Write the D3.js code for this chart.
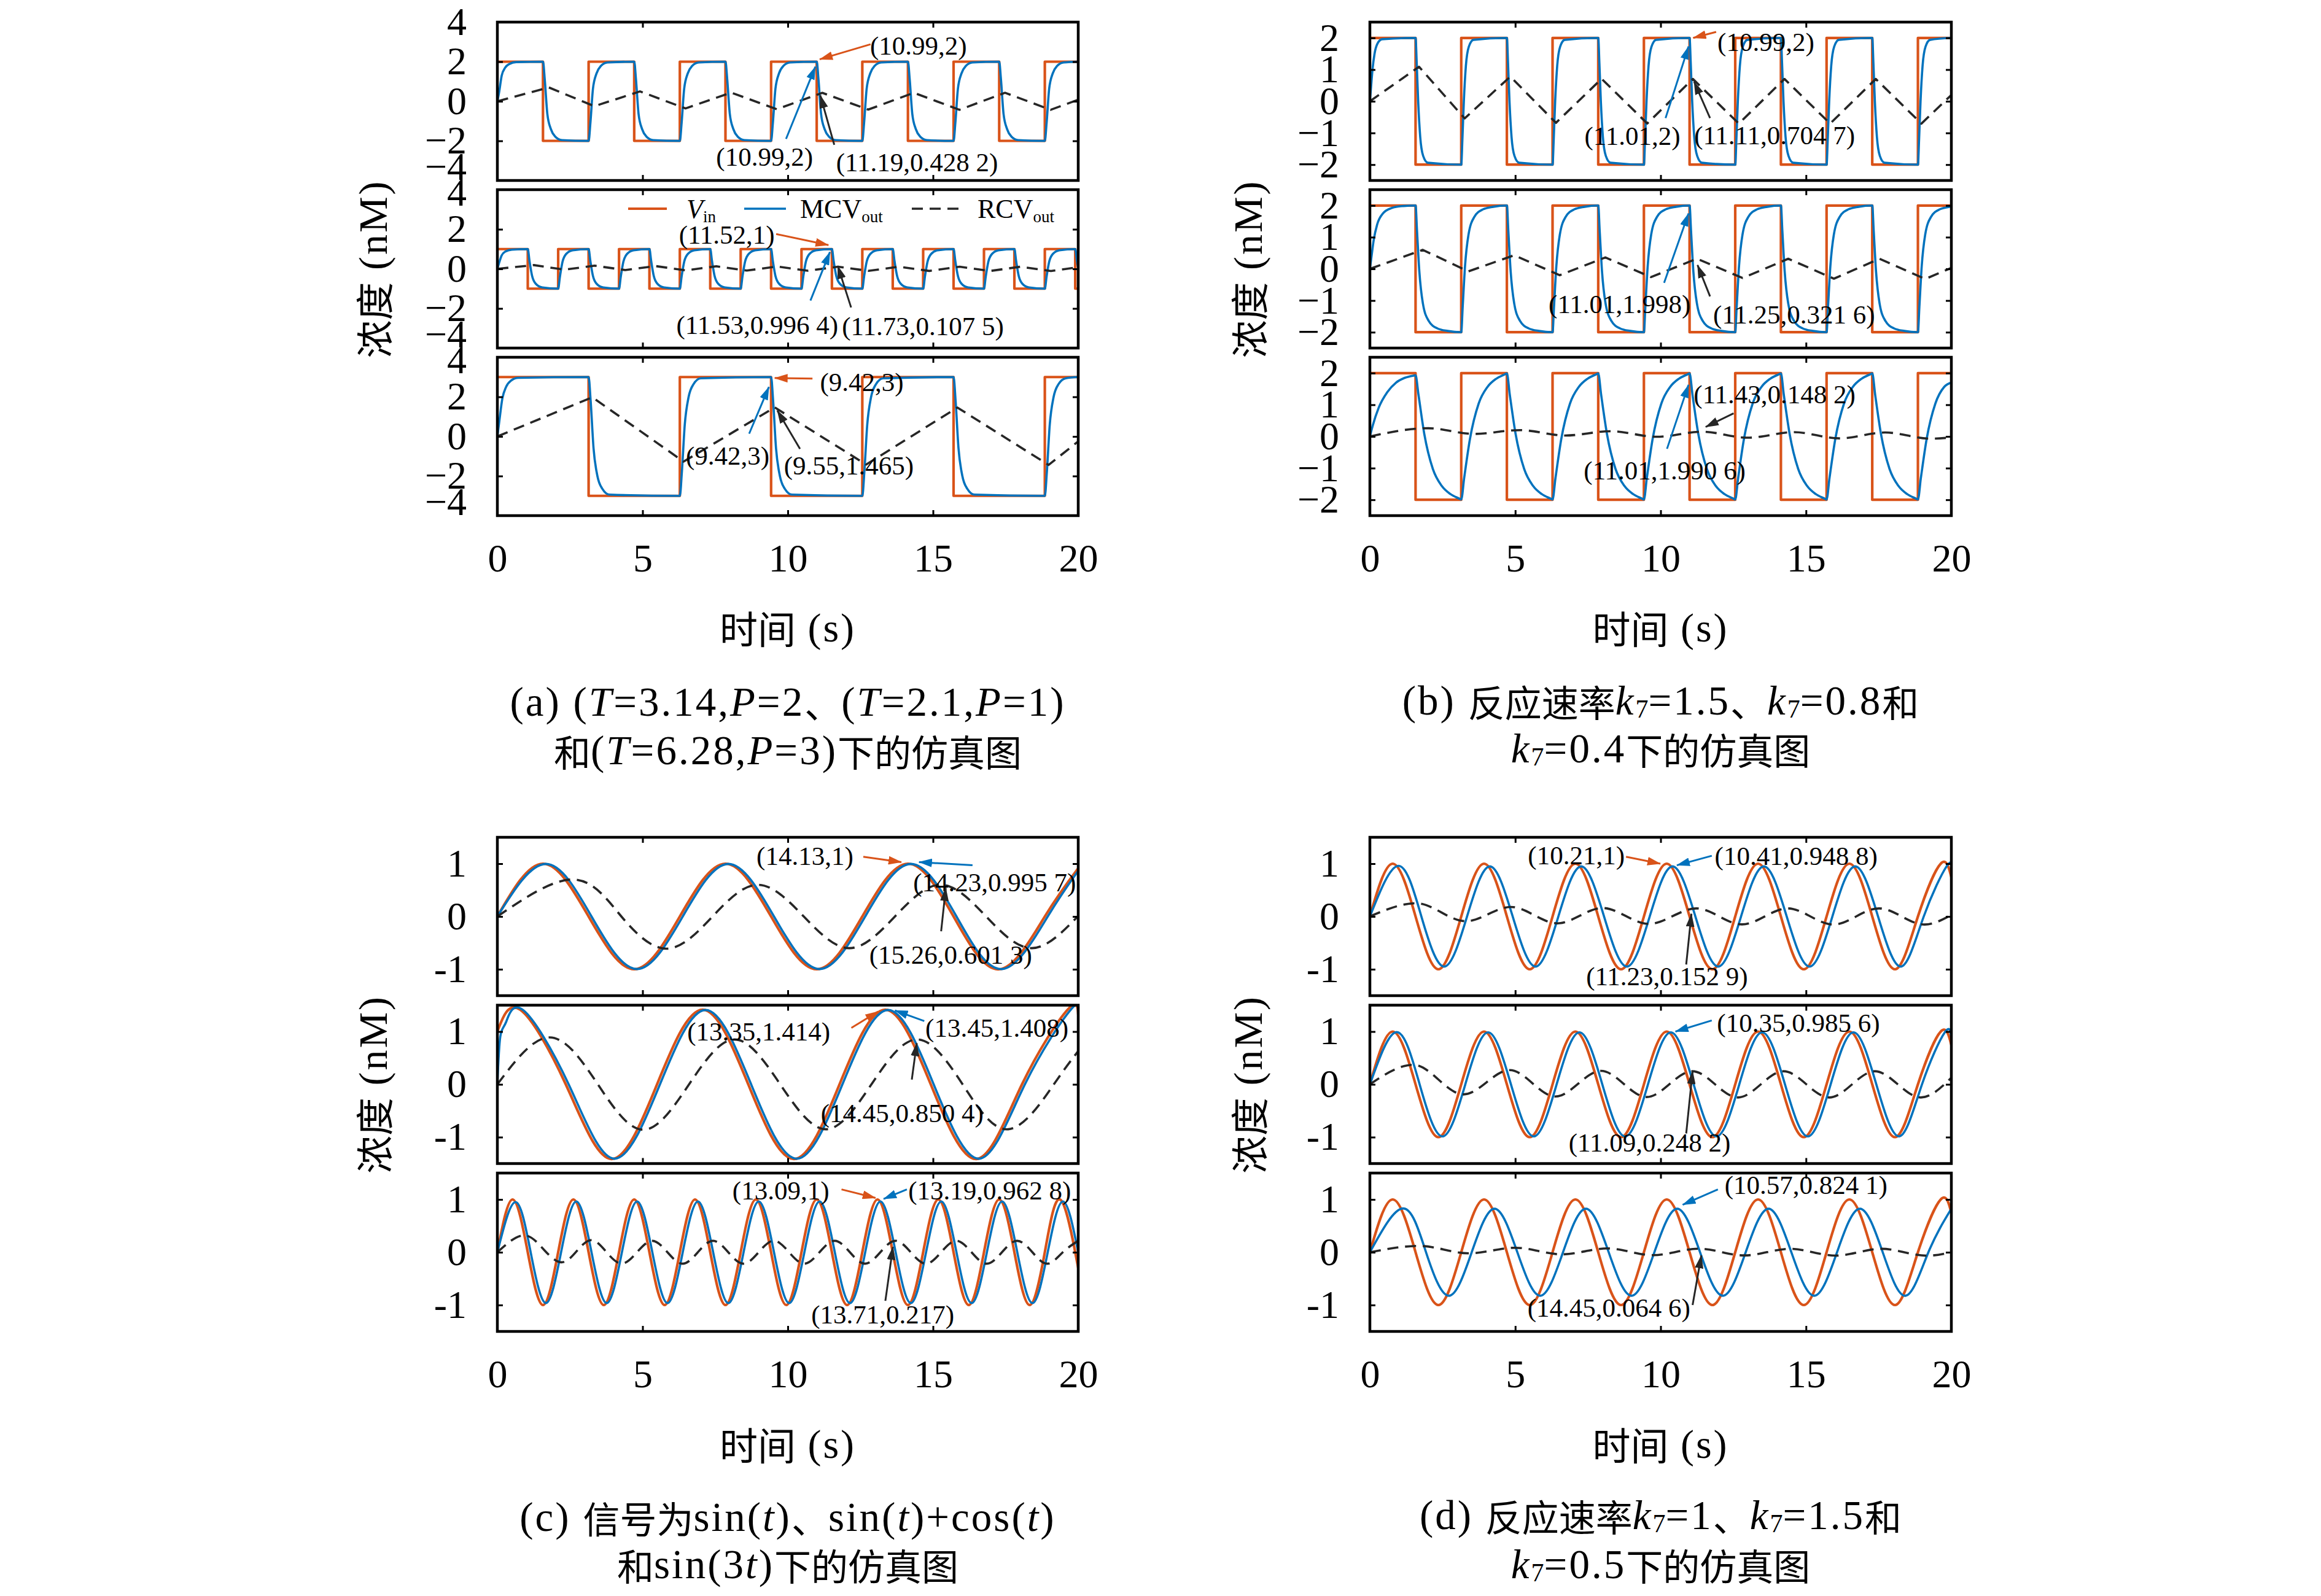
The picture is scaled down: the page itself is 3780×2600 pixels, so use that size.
<!DOCTYPE html>
<html>
<head>
<meta charset="utf-8">
<script src="https://cdn.jsdelivr.net/npm/d3@7"></script>
<style>
  body { margin: 0; background: #fff; }
</style>
</head>
<body>
<svg id="fig" width="3780" height="2600"></svg>
<script>
// -------- Data --------
const timeTicks = [0, 5, 10, 15, 20];
const yTicksA = [-4, -2, 0, 2, 4];
const yTicksB = [-2, -1, 0, 1, 2];
const yTicksCD = [-1, 0, 1];

// (a) square inputs, [t, level] from t onward
const vinA1 = [[0,2],[1.571,-2],[3.142,2],[4.712,-2],[6.283,2],[7.854,-2],[9.425,2],[10.996,-2],[12.566,2],[14.137,-2],[15.708,2],[17.279,-2],[18.850,2],[20,2]];
const vinA2 = [[0,1],[1.047,-1],[2.094,1],[3.142,-1],[4.189,1],[5.236,-1],[6.283,1],[7.330,-1],[8.378,1],[9.425,-1],[10.472,1],[11.519,-1],[12.566,1],[13.614,-1],[14.661,1],[15.708,-1],[16.755,1],[17.802,-1],[18.850,1],[19.897,-1],[20,-1]];
const vinA3 = [[0,3],[3.142,-3],[6.283,3],[9.425,-3],[12.566,3],[15.708,-3],[18.850,3],[20,3]];

const mcvA1 = [[0,0],[0.06,0.45],[0.15,1.3],[0.27,1.7],[0.42,1.89],[0.65,1.98],
  [1.571,2],[1.631,1.12],[1.721,-0.64],[1.841,-1.4],[1.991,-1.78],[2.221,-1.96],
  [3.142,-2],[3.202,-1.12],[3.292,0.64],[3.412,1.4],[3.562,1.78],[3.792,1.96],
  [4.712,2],[4.772,1.12],[4.862,-0.64],[4.982,-1.4],[5.132,-1.78],[5.362,-1.96],
  [6.283,-2],[6.343,-1.12],[6.433,0.64],[6.553,1.4],[6.703,1.78],[6.933,1.96],
  [7.854,2],[7.914,1.12],[8.004,-0.64],[8.124,-1.4],[8.274,-1.78],[8.504,-1.96],
  [9.425,-2],[9.485,-1.12],[9.575,0.64],[9.695,1.4],[9.845,1.78],[10.075,1.96],
  [10.996,2],[11.056,1.12],[11.146,-0.64],[11.266,-1.4],[11.416,-1.78],[11.646,-1.96],
  [12.566,-2],[12.626,-1.12],[12.716,0.64],[12.836,1.4],[12.986,1.78],[13.216,1.96],
  [14.137,2],[14.197,1.12],[14.287,-0.64],[14.407,-1.4],[14.557,-1.78],[14.787,-1.96],
  [15.708,-2],[15.768,-1.12],[15.858,0.64],[15.978,1.4],[16.128,1.78],[16.358,1.96],
  [17.279,2],[17.339,1.12],[17.429,-0.64],[17.549,-1.4],[17.699,-1.78],[17.929,-1.96],
  [18.850,-2],[18.910,-1.12],[19.000,0.64],[19.120,1.4],[19.270,1.78],[19.500,1.96],[20,2]];
const mcvA2 = [[0,0],[0.06,0.3],[0.15,0.68],[0.28,0.88],[0.5,0.97],
  [1.047,1],[1.107,0.4],[1.197,-0.36],[1.327,-0.76],[1.547,-0.94],
  [2.094,-1],[2.154,-0.4],[2.244,0.36],[2.374,0.76],[2.594,0.94],
  [3.142,1],[3.202,0.4],[3.292,-0.36],[3.422,-0.76],[3.642,-0.94],
  [4.189,-1],[4.249,-0.4],[4.339,0.36],[4.469,0.76],[4.689,0.94],
  [5.236,1],[5.296,0.4],[5.386,-0.36],[5.516,-0.76],[5.736,-0.94],
  [6.283,-1],[6.343,-0.4],[6.433,0.36],[6.563,0.76],[6.783,0.94],
  [7.330,1],[7.390,0.4],[7.480,-0.36],[7.610,-0.76],[7.830,-0.94],
  [8.378,-1],[8.438,-0.4],[8.528,0.36],[8.658,0.76],[8.878,0.94],
  [9.425,1],[9.485,0.4],[9.575,-0.36],[9.705,-0.76],[9.925,-0.94],
  [10.472,-1],[10.532,-0.4],[10.622,0.36],[10.752,0.76],[10.972,0.94],
  [11.519,1],[11.579,0.4],[11.669,-0.36],[11.799,-0.76],[12.019,-0.94],
  [12.566,-1],[12.626,-0.4],[12.716,0.36],[12.846,0.76],[13.066,0.94],
  [13.614,1],[13.674,0.4],[13.764,-0.36],[13.894,-0.76],[14.114,-0.94],
  [14.661,-1],[14.721,-0.4],[14.811,0.36],[14.941,0.76],[15.161,0.94],
  [15.708,1],[15.768,0.4],[15.858,-0.36],[15.988,-0.76],[16.208,-0.94],
  [16.755,-1],[16.815,-0.4],[16.905,0.36],[17.035,0.76],[17.255,0.94],
  [17.802,1],[17.862,0.4],[17.952,-0.36],[18.082,-0.76],[18.302,-0.94],
  [18.850,-1],[18.910,-0.4],[19.000,0.36],[19.130,0.76],[19.350,0.94],
  [19.897,1],[19.957,0.4],[20,0.05]];
const mcvA3 = [[0,0],[0.07,0.8],[0.17,1.9],[0.3,2.5],[0.47,2.82],[0.72,2.96],
  [3.142,3],[3.212,1.8],[3.312,-0.6],[3.442,-1.98],[3.612,-2.64],[3.862,-2.94],
  [6.283,-3],[6.353,-1.8],[6.453,0.6],[6.583,1.98],[6.753,2.64],[7.003,2.94],
  [9.425,3],[9.495,1.8],[9.595,-0.6],[9.725,-1.98],[9.895,-2.64],[10.145,-2.94],
  [12.566,-3],[12.636,-1.8],[12.736,0.6],[12.866,1.98],[13.036,2.64],[13.286,2.94],
  [15.708,3],[15.778,1.8],[15.878,-0.6],[16.008,-1.98],[16.178,-2.64],[16.428,-2.94],
  [18.850,-3],[18.920,-1.8],[19.020,0.6],[19.150,1.98],[19.320,2.64],[19.570,2.94],[20,3]];

const rcvA1 = [[0,0],[1.77,0.70],[3.34,-0.25],[4.91,0.50],[6.48,-0.36],[8.05,0.44],[9.62,-0.40],[11.19,0.4282],[12.77,-0.42],[14.34,0.43],[15.91,-0.43],[17.48,0.43],[19.05,-0.43],[20,0.08]];
const rcvA2 = [[0,0],[1.257,0.19],[2.304,-0.04],[3.352,0.16],[4.399,-0.06],[5.446,0.14],[6.493,-0.075],[7.540,0.13],[8.588,-0.085],[9.635,0.12],[10.682,-0.095],[11.729,0.1075],[12.776,-0.1],[13.824,0.107],[14.871,-0.104],[15.918,0.107],[16.965,-0.106],[18.012,0.107],[19.060,-0.107],[20,0.085]];
const rcvA3 = [[0,0],[3.27,1.98],[6.41,-1.27],[9.55,1.465],[12.70,-1.42],[15.84,1.46],[18.98,-1.44],[20,-0.25]];

// (b) same square input for the three rates
const vinB = [[0,2],[1.571,-2],[3.142,2],[4.712,-2],[6.283,2],[7.854,-2],[9.425,2],[10.996,-2],[12.566,2],[14.137,-2],[15.708,2],[17.279,-2],[18.850,2],[20,2]];
const mcvB1 = [[0,0],[0.04,0.45],[0.09,1.0],[0.16,1.5],[0.26,1.82],[0.42,1.96],
  [1.571,2],[1.611,1.2],[1.661,0],[1.731,-1.12],[1.831,-1.72],[1.991,-1.94],
  [3.142,-2],[3.182,-1.2],[3.232,0],[3.302,1.12],[3.402,1.72],[3.562,1.94],
  [4.712,2],[4.752,1.2],[4.802,0],[4.872,-1.12],[4.972,-1.72],[5.132,-1.94],
  [6.283,-2],[6.323,-1.2],[6.373,0],[6.443,1.12],[6.543,1.72],[6.703,1.94],
  [7.854,2],[7.894,1.2],[7.944,0],[8.014,-1.12],[8.114,-1.72],[8.274,-1.94],
  [9.425,-2],[9.465,-1.2],[9.515,0],[9.585,1.12],[9.685,1.72],[9.845,1.94],
  [10.996,2],[11.036,1.2],[11.086,0],[11.156,-1.12],[11.256,-1.72],[11.416,-1.94],
  [12.566,-2],[12.606,-1.2],[12.656,0],[12.726,1.12],[12.826,1.72],[12.986,1.94],
  [14.137,2],[14.177,1.2],[14.227,0],[14.297,-1.12],[14.397,-1.72],[14.557,-1.94],
  [15.708,-2],[15.748,-1.2],[15.798,0],[15.868,1.12],[15.968,1.72],[16.128,1.94],
  [17.279,2],[17.319,1.2],[17.369,0],[17.439,-1.12],[17.539,-1.72],[17.699,-1.94],
  [18.850,-2],[18.890,-1.2],[18.940,0],[19.010,1.12],[19.110,1.72],[19.270,1.94],[20,2]];
const mcvB2 = [[0,0],[0.05,0.35],[0.13,0.9],[0.25,1.4],[0.45,1.75],[0.75,1.92],[1.1,1.98],
  [1.571,2],[1.621,1.2],[1.701,-0.08],[1.821,-1.08],[2.021,-1.64],[2.321,-1.88],[2.671,-1.96],
  [3.142,-2],[3.192,-1.2],[3.272,0.08],[3.392,1.08],[3.592,1.64],[3.892,1.88],[4.242,1.96],
  [4.712,2],[4.762,1.2],[4.842,-0.08],[4.962,-1.08],[5.162,-1.64],[5.462,-1.88],[5.812,-1.96],
  [6.283,-2],[6.333,-1.2],[6.413,0.08],[6.533,1.08],[6.733,1.64],[7.033,1.88],[7.383,1.96],
  [7.854,2],[7.904,1.2],[7.984,-0.08],[8.104,-1.08],[8.304,-1.64],[8.604,-1.88],[8.954,-1.96],
  [9.425,-2],[9.475,-1.2],[9.555,0.08],[9.675,1.08],[9.875,1.64],[10.175,1.88],[10.525,1.96],
  [10.996,2],[11.046,1.2],[11.126,-0.08],[11.246,-1.08],[11.446,-1.64],[11.746,-1.88],[12.096,-1.96],
  [12.566,-2],[12.616,-1.2],[12.696,0.08],[12.816,1.08],[13.016,1.64],[13.316,1.88],[13.666,1.96],
  [14.137,2],[14.187,1.2],[14.267,-0.08],[14.387,-1.08],[14.587,-1.64],[14.887,-1.88],[15.237,-1.96],
  [15.708,-2],[15.758,-1.2],[15.838,0.08],[15.958,1.08],[16.158,1.64],[16.458,1.88],[16.808,1.96],
  [17.279,2],[17.329,1.2],[17.409,-0.08],[17.529,-1.08],[17.729,-1.64],[18.029,-1.88],[18.379,-1.96],
  [18.850,-2],[18.900,-1.2],[18.980,0.08],[19.100,1.08],[19.300,1.64],[19.600,1.88],[19.950,1.96],[20,1.97]];
const mcvB3 = [[0,0],[0.1,0.35],[0.3,0.9],[0.6,1.4],[0.9,1.7],[1.2,1.85],[1.5,1.92],
  [1.571,1.93],[1.671,1.32],[1.871,0.08],[2.171,-1.04],[2.471,-1.56],[2.771,-1.82],[3.071,-1.96],
  [3.142,-1.99],[3.242,-1.32],[3.442,-0.08],[3.742,1.04],[4.042,1.56],[4.342,1.82],[4.642,1.96],
  [4.712,1.99],[4.812,1.32],[5.012,0.08],[5.312,-1.04],[5.612,-1.56],[5.912,-1.82],[6.212,-1.96],
  [6.283,-1.99],[6.383,-1.32],[6.583,-0.08],[6.883,1.04],[7.183,1.56],[7.483,1.82],[7.783,1.96],
  [7.854,1.99],[7.954,1.32],[8.154,0.08],[8.454,-1.04],[8.754,-1.56],[9.054,-1.82],[9.354,-1.96],
  [9.425,-1.99],[9.525,-1.32],[9.725,-0.08],[10.025,1.04],[10.325,1.56],[10.625,1.82],[10.925,1.96],
  [10.996,1.99],[11.096,1.32],[11.296,0.08],[11.596,-1.04],[11.896,-1.56],[12.196,-1.82],[12.496,-1.96],
  [12.566,-1.99],[12.666,-1.32],[12.866,-0.08],[13.166,1.04],[13.466,1.56],[13.766,1.82],[14.066,1.96],
  [14.137,1.99],[14.237,1.32],[14.437,0.08],[14.737,-1.04],[15.037,-1.56],[15.337,-1.82],[15.637,-1.96],
  [15.708,-1.99],[15.808,-1.32],[16.008,-0.08],[16.308,1.04],[16.608,1.56],[16.908,1.82],[17.208,1.96],
  [17.279,1.99],[17.379,1.32],[17.579,0.08],[17.879,-1.04],[18.179,-1.56],[18.479,-1.82],[18.779,-1.96],
  [18.850,-1.99],[18.950,-1.32],[19.150,-0.08],[19.450,1.04],[19.750,1.56],[20,1.7]];
const rcvB1 = [[0,0],[1.69,1.09],[3.26,-0.54],[4.83,0.78],[6.40,-0.68],[7.97,0.71],[9.54,-0.70],[11.11,0.7047],[12.69,-0.705],[14.26,0.705],[15.83,-0.705],[17.40,0.705],[18.97,-0.705],[20,0.2]];
const rcvB2 = [[0,0],[1.82,0.60],[3.39,-0.08],[4.96,0.43],[6.53,-0.20],[8.10,0.36],[9.67,-0.26],[11.25,0.3216],[12.82,-0.29],[14.39,0.32],[15.96,-0.31],[17.53,0.32],[19.10,-0.32],[20,0.03]];
const rcvB3 = [[0,0],[2.01,0.26],[3.58,0.08],[5.15,0.20],[6.72,0.03],[8.29,0.165],[9.86,-0.01],[11.43,0.1482],[13.00,-0.04],[14.58,0.135],[16.15,-0.06],[17.72,0.125],[19.29,-0.07],[20,-0.03]];

// (c) sine inputs: extrema and zero crossings
const vinC1 = [[0,0],[1.571,1],[3.142,0],[4.712,-1],[6.283,0],[7.854,1],[9.425,0],[10.996,-1],[12.566,0],[14.137,1],[15.708,0],[17.279,-1],[18.850,0],[20,0.913]];
const mcvC1 = [[0,0],[1.671,0.996],[3.242,0],[4.812,-0.996],[6.383,0],[7.954,0.996],[9.525,0],[11.096,-0.996],[12.666,0],[14.237,0.9957],[15.808,0],[17.379,-0.996],[18.950,0],[20,0.867]];
const rcvC1 = [[0,0],[2.6,0.70],[4.27,0],[5.84,-0.61],[7.41,0],[8.97,0.60],[10.55,0],[12.12,-0.60],[13.69,0],[15.26,0.6013],[16.83,0],[18.40,-0.60],[20,0.01]];
const vinC2 = [[0,1],[0.785,1.414],[2.356,0],[3.927,-1.414],[5.498,0],[7.069,1.414],[8.639,0],[10.210,-1.414],[11.781,0],[13.352,1.414],[14.923,0],[16.493,-1.414],[18.064,0],[19.635,1.414],[20,1.32]];
const mcvC2 = [[0,0],[0.1,0.9],[0.3,1.18],[0.885,1.408],[2.456,0],[4.027,-1.408],[5.598,0],[7.169,1.408],[8.739,0],[10.310,-1.408],[11.881,0],[13.452,1.408],[15.023,0],[16.593,-1.408],[18.164,0],[19.735,1.408],[20,1.36]];
const rcvC2 = [[0,0],[1.8,0.89],[3.46,0],[5.03,-0.86],[6.60,0],[8.17,0.85],[9.74,0],[11.31,-0.85],[12.88,0],[14.45,0.8504],[16.02,0],[17.59,-0.85],[19.16,0],[20,0.63]];
const vinC3 = [[0,0],[0.524,1],[1.047,0],[1.571,-1],[2.094,0],[2.618,1],[3.142,0],[3.665,-1],[4.189,0],[4.712,1],[5.236,0],[5.760,-1],[6.283,0],[6.807,1],[7.330,0],[7.854,-1],[8.378,0],[8.901,1],[9.425,0],[9.948,-1],[10.472,0],[10.996,1],[11.519,0],[12.043,-1],[12.566,0],[13.090,1],[13.614,0],[14.137,-1],[14.661,0],[15.184,1],[15.708,0],[16.232,-1],[16.755,0],[17.279,1],[17.802,0],[18.326,-1],[18.850,0],[19.373,1],[19.897,0],[20,-0.305]];
const mcvC3 = [[0,0],[0.624,0.95],[1.147,0],[1.671,-0.963],[2.194,0],[2.718,0.963],[3.242,0],[3.765,-0.963],[4.289,0],[4.812,0.963],[5.336,0],[5.860,-0.963],[6.383,0],[6.907,0.963],[7.430,0],[7.954,-0.963],[8.478,0],[9.001,0.963],[9.525,0],[10.048,-0.963],[10.572,0],[11.096,0.963],[11.619,0],[12.143,-0.963],[12.666,0],[13.190,0.9628],[13.714,0],[14.237,-0.963],[14.761,0],[15.284,0.963],[15.808,0],[16.332,-0.963],[16.855,0],[17.379,0.963],[17.902,0],[18.426,-0.963],[18.950,0],[19.473,0.963],[20,0]];
const rcvC3 = [[0,0],[0.9,0.32],[1.6,0.05],[2.2,-0.19],[2.714,0.01],[3.238,0.23],[3.762,0],[4.285,-0.215],[4.809,0],[5.332,0.217],[5.856,0],[6.379,-0.217],[6.903,0],[7.426,0.217],[7.950,0],[8.473,-0.217],[8.997,0],[9.520,0.217],[10.044,0],[10.567,-0.217],[11.092,0],[11.614,0.217],[12.139,0],[12.661,-0.217],[13.186,0],[13.708,0.217],[14.233,0],[14.755,-0.217],[15.280,0],[15.802,0.217],[16.327,0],[16.849,-0.217],[17.374,0],[17.896,0.217],[18.422,0],[18.943,-0.217],[19.469,0],[20,0.217]];

// (d) same sine input for the three rates
const vinD = [[0,0],[0.785,1],[1.571,0],[2.356,-1],[3.142,0],[3.927,1],[4.712,0],[5.498,-1],[6.283,0],[7.069,1],[7.854,0],[8.639,-1],[9.425,0],[10.210,1],[10.996,0],[11.781,-1],[12.566,0],[13.352,1],[14.137,0],[14.923,-1],[15.708,0],[16.493,1],[17.279,0],[18.064,-1],[18.850,0],[19.635,1],[20,0.745]];
const mcvD1 = [[0,0],[0.985,0.96],[1.771,0],[2.556,-0.949],[3.342,0],[4.127,0.949],[4.912,0],[5.698,-0.949],[6.483,0],[7.269,0.949],[8.054,0],[8.839,-0.949],[9.625,0],[10.410,0.9488],[11.196,0],[11.981,-0.949],[12.766,0],[13.552,0.949],[14.337,0],[15.123,-0.949],[15.908,0],[16.693,0.949],[17.479,0],[18.264,-0.949],[19.050,0],[19.835,0.949],[20,0.898]];
const mcvD2 = [[0,0],[0.925,0.99],[1.711,0],[2.496,-0.986],[3.282,0],[4.067,0.986],[4.852,0],[5.638,-0.986],[6.423,0],[7.209,0.986],[7.994,0],[8.779,-0.986],[9.565,0],[10.350,0.9856],[11.136,0],[11.921,-0.986],[12.706,0],[13.492,0.986],[14.277,0],[15.063,-0.986],[15.848,0],[16.633,0.986],[17.419,0],[18.204,-0.986],[18.990,0],[19.775,0.986],[20,0.887]];
const mcvD3 = [[0,0],[1.145,0.83],[1.931,0],[2.716,-0.824],[3.502,0],[4.287,0.824],[5.072,0],[5.858,-0.824],[6.643,0],[7.429,0.824],[8.214,0],[8.999,-0.824],[9.785,0],[10.570,0.8241],[11.356,0],[12.141,-0.824],[12.926,0],[13.712,0.824],[14.497,0],[15.283,-0.824],[16.068,0],[16.853,0.824],[17.639,0],[18.424,-0.824],[19.210,0],[20,0.824]];
const rcvD1 = [[0,0],[1.6,0.25],[3.3,-0.09],[4.85,0.18],[6.45,-0.13],[8.0,0.16],[9.6,-0.14],[11.23,0.1529],[12.80,-0.15],[14.37,0.153],[15.94,-0.153],[17.51,0.153],[19.08,-0.153],[20,0.03]];
const rcvD2 = [[0,0],[1.5,0.37],[3.22,-0.19],[4.81,0.27],[6.38,-0.23],[7.95,0.255],[9.52,-0.24],[11.09,0.2482],[12.66,-0.248],[14.23,0.248],[15.80,-0.248],[17.37,0.248],[18.95,-0.248],[20,0.126]];
const rcvD3 = [[0,0],[1.7,0.12],[3.4,-0.02],[5.0,0.085],[6.6,-0.04],[8.17,0.072],[9.74,-0.055],[11.31,0.067],[12.88,-0.06],[14.45,0.0646],[16.02,-0.064],[17.59,0.065],[19.16,-0.065],[20,0.0]];

// annotations: label, which series, label centre, arrow tail, arrow head (data units)
const notesA1 = [
  ["(10.99,2)", "vin", [14.5, 2.82], [12.85, 2.88], [11.1, 2.12]],
  ["(10.99,2)", "mcv", [9.2, -2.8], [9.94, -1.9], [10.95, 1.75]],
  ["(11.19,0.428 2)", "rcv", [14.45, -3.08], [11.6, -2.2], [11.12, 0.3]]
];
const notesA2 = [
  ["(11.52,1)", "vin", [7.9, 1.72], [9.6, 1.76], [11.4, 1.2]],
  ["(11.53,0.996 4)", "mcv", [8.95, -2.85], [10.78, -1.6], [11.45, 0.85]],
  ["(11.73,0.107 5)", "rcv", [14.65, -2.9], [12.18, -1.95], [11.72, 0.15]]
];
const notesA3 = [
  ["(9.42,3)", "vin", [12.55, 2.75], [10.85, 2.92], [9.55, 2.95]],
  ["(9.42,3)", "mcv", [7.93, -0.97], [8.67, 0.14], [9.35, 2.5]],
  ["(9.55,1.465)", "rcv", [12.1, -1.46], [10.42, -0.63], [9.64, 1.31]]
];
const notesB1 = [
  ["(10.99,2)", "vin", [13.62, 1.87], [11.91, 2.19], [11.12, 2.0]],
  ["(11.01,2)", "mcv", [9.03, -1.1], [10.17, -0.53], [10.96, 1.73]],
  ["(11.11,0.704 7)", "rcv", [13.92, -1.07], [11.7, -0.53], [11.15, 0.62]]
];
const notesB2 = [
  ["(11.01,1.998)", "mcv", [8.59, -1.12], [10.12, -0.44], [10.96, 1.75]],
  ["(11.25,0.321 6)", "rcv", [14.59, -1.44], [11.7, -0.87], [11.27, 0.12]]
];
const notesB3 = [
  ["(11.43,0.148 2)", "rcv", [13.92, 1.33], [12.51, 0.73], [11.55, 0.3]],
  ["(11.01,1.990 6)", "mcv", [10.14, -1.08], [10.22, -0.39], [10.96, 1.63]]
];
const notesC1 = [
  ["(14.13,1)", "vin", [10.59, 1.14], [12.6, 1.13], [13.91, 1.03]],
  ["(14.23,0.995 7)", "mcv", [17.12, 0.65], [16.36, 0.97], [14.52, 1.03]],
  ["(15.26,0.601 3)", "rcv", [15.61, -0.73], [15.28, -0.28], [15.44, 0.54]]
];
const notesC2 = [
  ["(13.35,1.414)", "vin", [9.0, 1.0], [12.19, 1.07], [13.11, 1.38]],
  ["(13.45,1.408)", "mcv", [17.2, 1.07], [14.7, 1.2], [13.69, 1.4]],
  ["(14.45,0.850 4)", "rcv", [13.94, -0.55], [14.27, 0.09], [14.44, 0.78]]
];
const notesC3 = [
  ["(13.09,1)", "vin", [9.76, 1.17], [11.85, 1.19], [13.02, 1.03]],
  ["(13.19,0.962 8)", "mcv", [16.95, 1.17], [14.1, 1.19], [13.3, 1.01]],
  ["(13.71,0.217)", "rcv", [13.27, -1.18], [13.36, -0.92], [13.62, 0.1]]
];
const notesD1 = [
  ["(10.21,1)", "vin", [7.1, 1.16], [8.81, 1.13], [9.99, 1.0]],
  ["(10.41,0.948 8)", "mcv", [14.66, 1.14], [11.76, 1.15], [10.56, 0.97]],
  ["(11.23,0.152 9)", "rcv", [10.22, -1.13], [10.88, -0.91], [11.06, 0.05]]
];
const notesD2 = [
  ["(10.35,0.985 6)", "mcv", [14.74, 1.16], [11.76, 1.21], [10.51, 1.0]],
  ["(11.09,0.248 2)", "rcv", [9.62, -1.11], [10.88, -0.93], [11.1, 0.25]]
];
const notesD3 = [
  ["(10.57,0.824 1)", "mcv", [15.0, 1.27], [11.97, 1.19], [10.76, 0.9]],
  ["(14.45,0.064 6)", "rcv", [8.22, -1.05], [11.1, -1.0], [11.4, -0.06]]
];

// caption runs: [text, style]  style: "" roman, "i" italic, "s" subscript
const captionA = [
  [["(a) (", ""], ["T", "i"], ["=3.14,", ""], ["P", "i"], ["=2、(", ""], ["T", "i"], ["=2.1,", ""], ["P", "i"], ["=1)", ""]],
  [["和(", ""], ["T", "i"], ["=6.28,", ""], ["P", "i"], ["=3)下的仿真图", ""]]
];
const captionB = [
  [["(b) 反应速率", ""], ["k", "i"], ["7", "s"], ["=1.5、", ""], ["k", "i"], ["7", "s"], ["=0.8和", ""]],
  [["k", "i"], ["7", "s"], ["=0.4下的仿真图", ""]]
];
const captionC = [
  [["(c) 信号为sin(", ""], ["t", "i"], [")、sin(", ""], ["t", "i"], [")+cos(", ""], ["t", "i"], [")", ""]],
  [["和sin(3", ""], ["t", "i"], [")下的仿真图", ""]]
];
const captionD = [
  [["(d) 反应速率", ""], ["k", "i"], ["7", "s"], ["=1、", ""], ["k", "i"], ["7", "s"], ["=1.5和", ""]],
  [["k", "i"], ["7", "s"], ["=0.5下的仿真图", ""]]
];
const xLabel = [["时间 (s)", ""]];
const yLabel = [["浓度 (nM)", ""]];

// -------- Styles --------
const SERIF = "'Liberation Serif', serif";
const CJK = "'Noto Sans CJK SC', sans-serif";
const STYLE = {
  vin: { color: "#D95319", width: 4.2, dash: null },
  mcv: { color: "#0072BD", width: 3.6, dash: null },
  rcv: { color: "#262626", width: 3.6, dash: "18,11" }
};

const svg = d3.select("#fig");
svg.append("rect").attr("width", 3780).attr("height", 2600).attr("fill", "#fff");

const defs = svg.append("defs");
Object.entries(STYLE).forEach(([k, s]) => {
  defs.append("marker")
    .attr("id", "ah-" + k)
    .attr("viewBox", "0 0 22 14")
    .attr("refX", 21).attr("refY", 7)
    .attr("markerWidth", 22).attr("markerHeight", 14)
    .attr("markerUnits", "userSpaceOnUse")
    .attr("orient", "auto")
    .append("path").attr("d", "M0,0L22,7L0,14Z").attr("fill", s.color);
});

// -------- Layout --------
const SUB_H = 258;
const panels = [
  { id: "a", xr: [810, 1756], tops: [36, 309, 582], ylabelX: 607, xlabelY: 1022, capY: [1143, 1222],
    minus: "\u2212", crowded: true, caption: captionA, legendRow: 1,
    subs: [
      { dom: [-4, 4], ticks: yTicksA, series: [[vinA1, "vin", d3.curveStepAfter], [mcvA1, "mcv", d3.curveMonotoneX], [rcvA1, "rcv", d3.curveLinear]], notes: notesA1 },
      { dom: [-4, 4], ticks: yTicksA, series: [[vinA2, "vin", d3.curveStepAfter], [mcvA2, "mcv", d3.curveMonotoneX], [rcvA2, "rcv", d3.curveLinear]], notes: notesA2 },
      { dom: [-4, 4], ticks: yTicksA, series: [[vinA3, "vin", d3.curveStepAfter], [mcvA3, "mcv", d3.curveMonotoneX], [rcvA3, "rcv", d3.curveLinear]], notes: notesA3 }
    ] },
  { id: "b", xr: [2231, 3178], tops: [36, 309, 582], ylabelX: 2032, xlabelY: 1022, capY: [1141, 1219],
    minus: "\u2212", crowded: false, caption: captionB,
    subs: [
      { dom: [-2.5, 2.5], ticks: yTicksB, series: [[vinB, "vin", d3.curveStepAfter], [mcvB1, "mcv", d3.curveMonotoneX], [rcvB1, "rcv", d3.curveLinear]], notes: notesB1 },
      { dom: [-2.5, 2.5], ticks: yTicksB, series: [[vinB, "vin", d3.curveStepAfter], [mcvB2, "mcv", d3.curveMonotoneX], [rcvB2, "rcv", d3.curveLinear]], notes: notesB2 },
      { dom: [-2.5, 2.5], ticks: yTicksB, series: [[vinB, "vin", d3.curveStepAfter], [mcvB3, "mcv", d3.curveMonotoneX], [rcvB3, "rcv", d3.curveMonotoneX]], notes: notesB3 }
    ] },
  { id: "c", xr: [810, 1756], tops: [1364, 1637.5, 1911], ylabelX: 607, xlabelY: 2352, capY: [2471, 2548],
    minus: "-", crowded: false, caption: captionC,
    subs: [
      { dom: [-1.5, 1.5], ticks: yTicksCD, series: [[vinC1, "vin", d3.curveNatural], [mcvC1, "mcv", d3.curveNatural], [rcvC1, "rcv", d3.curveNatural]], notes: notesC1 },
      { dom: [-1.5, 1.5], ticks: yTicksCD, series: [[vinC2, "vin", d3.curveNatural], [mcvC2, "mcv", d3.curveNatural], [rcvC2, "rcv", d3.curveNatural]], notes: notesC2 },
      { dom: [-1.5, 1.5], ticks: yTicksCD, series: [[vinC3, "vin", d3.curveNatural], [mcvC3, "mcv", d3.curveNatural], [rcvC3, "rcv", d3.curveNatural]], notes: notesC3 }
    ] },
  { id: "d", xr: [2231, 3178], tops: [1364, 1637.5, 1911], ylabelX: 2032, xlabelY: 2352, capY: [2468, 2548],
    minus: "-", crowded: false, caption: captionD,
    subs: [
      { dom: [-1.5, 1.5], ticks: yTicksCD, series: [[vinD, "vin", d3.curveNatural], [mcvD1, "mcv", d3.curveNatural], [rcvD1, "rcv", d3.curveMonotoneX]], notes: notesD1 },
      { dom: [-1.5, 1.5], ticks: yTicksCD, series: [[vinD, "vin", d3.curveNatural], [mcvD2, "mcv", d3.curveNatural], [rcvD2, "rcv", d3.curveMonotoneX]], notes: notesD2 },
      { dom: [-1.5, 1.5], ticks: yTicksCD, series: [[vinD, "vin", d3.curveNatural], [mcvD3, "mcv", d3.curveNatural], [rcvD3, "rcv", d3.curveMonotoneX]], notes: notesD3 }
    ] }
];

const TICK_FONT = 64;

function styleAxis(g, showText) {
  g.select(".domain").remove();
  g.selectAll(".tick line").attr("stroke", "#000").attr("stroke-width", 3);
  g.attr("font-family", SERIF).attr("font-size", TICK_FONT);
  g.selectAll(".tick text").attr("fill", "#000");
  if (!showText) g.selectAll(".tick text").remove();
}

function drawSubplot(root, p, sp, i) {
  const [x0, x1] = p.xr;
  const top = p.tops[i];
  const x = d3.scaleLinear().domain([0, 20]).range([x0, x1]);
  const y = d3.scaleLinear().domain(sp.dom).range([top + SUB_H, top]);
  const g = root.append("g");

  const clipId = `clip-${p.id}-${i}`;
  g.append("clipPath").attr("id", clipId).append("rect")
    .attr("x", x0).attr("y", top).attr("width", x1 - x0).attr("height", SUB_H);

  const plot = g.append("g").attr("clip-path", `url(#${clipId})`);
  sp.series.forEach(([data, kind, curve]) => {
    const s = STYLE[kind];
    plot.append("path")
      .attr("d", d3.line().x(d => x(d[0])).y(d => y(d[1])).curve(curve)(data))
      .attr("fill", "none")
      .attr("stroke", s.color)
      .attr("stroke-width", s.width)
      .attr("stroke-dasharray", s.dash)
      .attr("stroke-linejoin", "round");
  });

  // inward ticks on all four sides
  const fmt = v => (v < 0 ? p.minus + Math.abs(v) : String(v));
  const left = g.append("g").attr("transform", `translate(${x0},0)`)
    .call(d3.axisLeft(y).tickValues(sp.ticks).tickSizeInner(-9).tickSizeOuter(0).tickPadding(50).tickFormat(fmt));
  styleAxis(left, true);
  if (p.crowded) {
    // stacked panels share the ±4 rows: lift the bottom label, drop the top one
    left.selectAll(".tick text").filter(d => d === d3.min(sp.ticks)).attr("y", -22);
    if (i > 0) left.selectAll(".tick text").filter(d => d === d3.max(sp.ticks)).attr("y", 5);
  }
  const right = g.append("g").attr("transform", `translate(${x1},0)`)
    .call(d3.axisRight(y).tickValues(sp.ticks).tickSizeInner(-9).tickSizeOuter(0));
  styleAxis(right, false);
  const topAx = g.append("g").attr("transform", `translate(0,${top})`)
    .call(d3.axisTop(x).tickValues(timeTicks).tickSizeInner(-9).tickSizeOuter(0));
  styleAxis(topAx, false);
  const isBottom = i === p.subs.length - 1;
  const bottom = g.append("g").attr("transform", `translate(0,${top + SUB_H})`)
    .call(d3.axisBottom(x).tickValues(timeTicks).tickSizeInner(-9).tickSizeOuter(0).tickPadding(46));
  styleAxis(bottom, isBottom);

  g.append("rect")
    .attr("x", x0).attr("y", top).attr("width", x1 - x0).attr("height", SUB_H)
    .attr("fill", "none").attr("stroke", "#000").attr("stroke-width", 4.5);

  // annotations
  sp.notes.forEach(([label, kind, at, from, to]) => {
    g.append("line")
      .attr("x1", x(from[0])).attr("y1", y(from[1]))
      .attr("x2", x(to[0])).attr("y2", y(to[1]))
      .attr("stroke", STYLE[kind].color).attr("stroke-width", 3)
      .attr("marker-end", `url(#ah-${kind})`);
    g.append("text")
      .attr("x", x(at[0])).attr("y", y(at[1]))
      .attr("text-anchor", "middle").attr("dominant-baseline", "central")
      .attr("font-family", SERIF).attr("font-size", 43)
      .attr("fill", "#000")
      .text(label);
  });

  if (p.legendRow === i) drawLegend(g, x0, top);
}

function drawLegend(g, x0, top) {
  const ly = top + 31;
  const items = [
    { kind: "vin", x: [213, 276], tx: 308, main: "V", sub: "in", italic: true },
    { kind: "mcv", x: [402, 470], tx: 493, main: "MCV", sub: "out", italic: false },
    { kind: "rcv", x: [675, 754], tx: 782, main: "RCV", sub: "out", italic: false }
  ];
  items.forEach(it => {
    const s = STYLE[it.kind];
    g.append("line")
      .attr("x1", x0 + it.x[0]).attr("x2", x0 + it.x[1])
      .attr("y1", ly).attr("y2", ly)
      .attr("stroke", s.color).attr("stroke-width", s.width)
      .attr("stroke-dasharray", s.dash);
    const t = g.append("text")
      .attr("x", x0 + it.tx).attr("y", ly + 15)
      .attr("font-family", SERIF).attr("font-size", 44).attr("fill", "#000");
    t.append("tspan").attr("font-style", it.italic ? "italic" : "normal").text(it.main);
    t.append("tspan").attr("font-size", 27).attr("dy", 7).text(it.sub);
  });
}

// mixed Chinese / Latin text: CJK runs in Noto Sans CJK, the rest in a serif face
const CJK_RE = /[\u3000-\u303f\u4e00-\u9fff\uff00-\uffef]+|[^\u3000-\u303f\u4e00-\u9fff\uff00-\uffef]+/g;
function richText(t, runs, cjkSize, latinSize) {
  let shifted = false;
  runs.forEach(([txt, st]) => {
    (txt.match(CJK_RE) || []).forEach(part => {
      const isCjk = /[\u3000-\u303f\u4e00-\u9fff\uff00-\uffef]/.test(part);
      const ts = t.append("tspan").text(part);
      if (isCjk) {
        ts.attr("font-family", CJK).attr("font-size", cjkSize);
      } else {
        ts.attr("font-family", SERIF).attr("font-size", st === "s" ? Math.round(latinSize * 0.62) : latinSize)
          .attr("letter-spacing", st === "s" ? 0 : 3);
      }
      if (st === "i") ts.attr("font-style", "italic");
      if (st === "s") {
        ts.attr("dy", 14);
        shifted = true;
      } else if (shifted) {
        ts.attr("dy", -14);
        shifted = false;
      }
    });
  });
}

function drawCaption(root, cx, cy, runs) {
  const t = root.append("text")
    .attr("x", cx).attr("y", cy)
    .attr("text-anchor", "middle").attr("dominant-baseline", "central")
    .attr("fill", "#000");
  richText(t, runs, 60, 67);
}

panels.forEach(p => {
  const root = svg.append("g").attr("class", "panel-" + p.id);
  p.subs.forEach((sp, i) => drawSubplot(root, p, sp, i));

  const cx = (p.xr[0] + p.xr[1]) / 2;
  const xl = root.append("text")
    .attr("x", cx).attr("y", p.xlabelY)
    .attr("text-anchor", "middle").attr("dominant-baseline", "central")
    .attr("fill", "#000");
  richText(xl, xLabel, 62, 66);

  const cy = p.tops[1] + SUB_H / 2;
  const yl = root.append("text")
    .attr("transform", `translate(${p.ylabelX},${cy}) rotate(-90)`)
    .attr("text-anchor", "middle").attr("dominant-baseline", "central")
    .attr("fill", "#000");
  richText(yl, yLabel, 62, 66);

  p.caption.forEach((runs, k) => drawCaption(root, cx, p.capY[k], runs));
});
</script>
</body>
</html>
